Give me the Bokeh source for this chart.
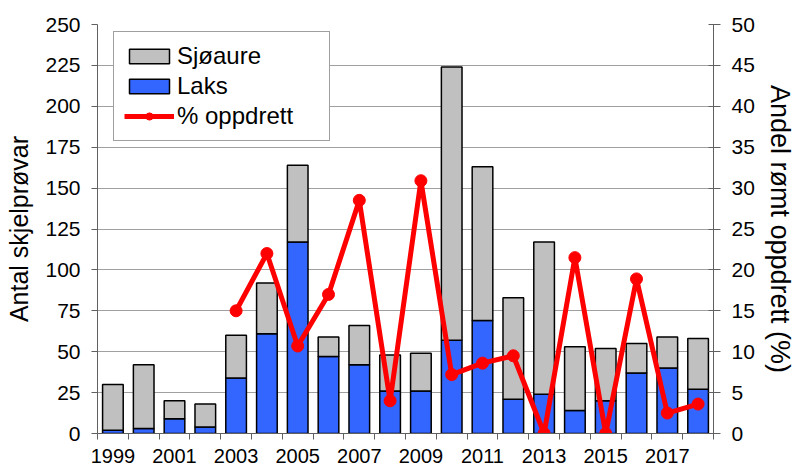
import math
from bokeh.plotting import figure
from bokeh.models import (Range1d, LinearAxis, FixedTicker, ColumnDataSource,
                          Legend, LegendItem)
from bokeh.embed import file_html
from bokeh.resources import INLINE

# ---- data -------------------------------------------------------------
years = list(range(1999, 2019))
laks = [2, 3, 9, 4, 34, 61, 117, 47, 42, 26, 26, 57, 69, 21, 24, 14, 20, 37, 40, 27]
sjoaure = [28, 39, 11, 14, 26, 31, 47, 12, 24, 22, 23, 167, 94, 62, 93, 39, 32, 18, 19, 31]
pct_oppdrett = [math.nan, math.nan, math.nan, math.nan, 15.0, 22.0, 10.7, 17.0, 28.5, 4.0,
                30.9, 7.2, 8.6, 9.5, 0.0, 21.5, 0.0, 18.9, 2.5, 3.6]
year_labels = [1999, 2001, 2003, 2005, 2007, 2009, 2011, 2013, 2015, 2017]
left_ticks = [0, 25, 50, 75, 100, 125, 150, 175, 200, 225, 250]
right_ticks = [0, 5, 10, 15, 20, 25, 30, 35, 40, 45, 50]

src = ColumnDataSource(dict(year=years, laks=laks, sjoaure=sjoaure, pct=pct_oppdrett))

FONT = "Liberation Sans"
GRAY = "#c0c0c0"
BLUE = "#3366ff"
RED = "#ff0000"
AXIS_COL = "#606060"

p = figure(width=797, height=467,
           x_range=Range1d(years[0] - 0.5, years[-1] + 0.5),
           y_range=Range1d(0, 250),
           output_backend="svg", toolbar_location=None,
           min_border_left=97, min_border_right=84,
           min_border_top=24, min_border_bottom=34)
p.extra_y_ranges = {"pct": Range1d(0, 50)}
p.outline_line_color = None
p.background_fill_color = "white"
p.border_fill_color = "white"

bars = p.vbar_stack(["laks", "sjoaure"], x="year", width=0.67, source=src,
                    fill_color=[BLUE, GRAY], line_color="black", line_width=1.5)

line_r = p.line("year", "pct", source=src, y_range_name="pct",
                line_color=RED, line_width=5)
dot_r = p.scatter("year", "pct", source=src, y_range_name="pct",
                  size=12, fill_color=RED, line_color=RED)

# ---- axes -------------------------------------------------------------
xax = p.xaxis[0]
xax.ticker = FixedTicker(ticks=year_labels,
                         minor_ticks=[y - 0.5 for y in years] + [years[-1] + 0.5])
xax.major_tick_line_color = None
xax.major_tick_out = 0
xax.major_tick_in = 0
xax.minor_tick_line_color = AXIS_COL
xax.minor_tick_out = 6
xax.minor_tick_in = 0
xax.minor_tick_line_width = 1
xax.axis_line_color = AXIS_COL
xax.major_label_standoff = 9
xax.major_label_text_font = FONT
xax.major_label_text_font_size = "20px"
xax.major_label_text_color = "black"

yax = p.yaxis[0]
yax.ticker = FixedTicker(ticks=left_ticks)
yax.minor_tick_line_color = None
yax.major_tick_out = 6
yax.major_tick_in = 0
yax.major_tick_line_color = AXIS_COL
yax.axis_line_color = AXIS_COL
yax.major_label_standoff = 11
yax.major_label_text_font = FONT
yax.major_label_text_font_size = "21px"
yax.major_label_text_color = "black"
yax.axis_label = "Antal skjelprøvar"
yax.axis_label_text_font = FONT
yax.axis_label_text_font_size = "25px"
yax.axis_label_text_font_style = "normal"
yax.axis_label_text_color = "black"
yax.axis_label_standoff = 9

rax = LinearAxis(y_range_name="pct", ticker=FixedTicker(ticks=right_ticks))
rax.minor_tick_line_color = None
rax.major_tick_out = 7
rax.major_tick_in = 5
rax.major_tick_line_color = AXIS_COL
rax.axis_line_color = AXIS_COL
rax.major_label_standoff = 11
rax.major_label_text_font = FONT
rax.major_label_text_font_size = "21px"
rax.major_label_text_color = "black"
rax.axis_label = "Andel rømt oppdrett (%)"
rax.axis_label_text_font = FONT
rax.axis_label_text_font_size = "27px"
rax.axis_label_text_font_style = "normal"
rax.axis_label_text_color = "black"
rax.axis_label_standoff = 7
p.add_layout(rax, "right")

p.xgrid.grid_line_color = None
p.ygrid.ticker = FixedTicker(ticks=left_ticks)
p.ygrid.grid_line_color = "#a0a0a0"
p.ygrid.grid_line_width = 1

# ---- legend -----------------------------------------------------------
legend = Legend(items=[
    LegendItem(label="Sjøaure", renderers=[bars[1]]),
    LegendItem(label="Laks", renderers=[bars[0]]),
    LegendItem(label="% oppdrett", renderers=[line_r, dot_r]),
], location=(16, 292))
legend.margin = 0
legend.padding = 10
legend.spacing = 2
legend.glyph_width = 50
legend.glyph_height = 18
legend.label_width = 142
legend.label_standoff = 3
legend.label_text_font = FONT
legend.label_text_font_size = "24px"
legend.label_text_color = "black"
legend.border_line_color = "#404040"
legend.border_line_width = 1
legend.background_fill_alpha = 1.0
p.add_layout(legend, "center")

open("out.html", "w").write(file_html(p, INLINE))
